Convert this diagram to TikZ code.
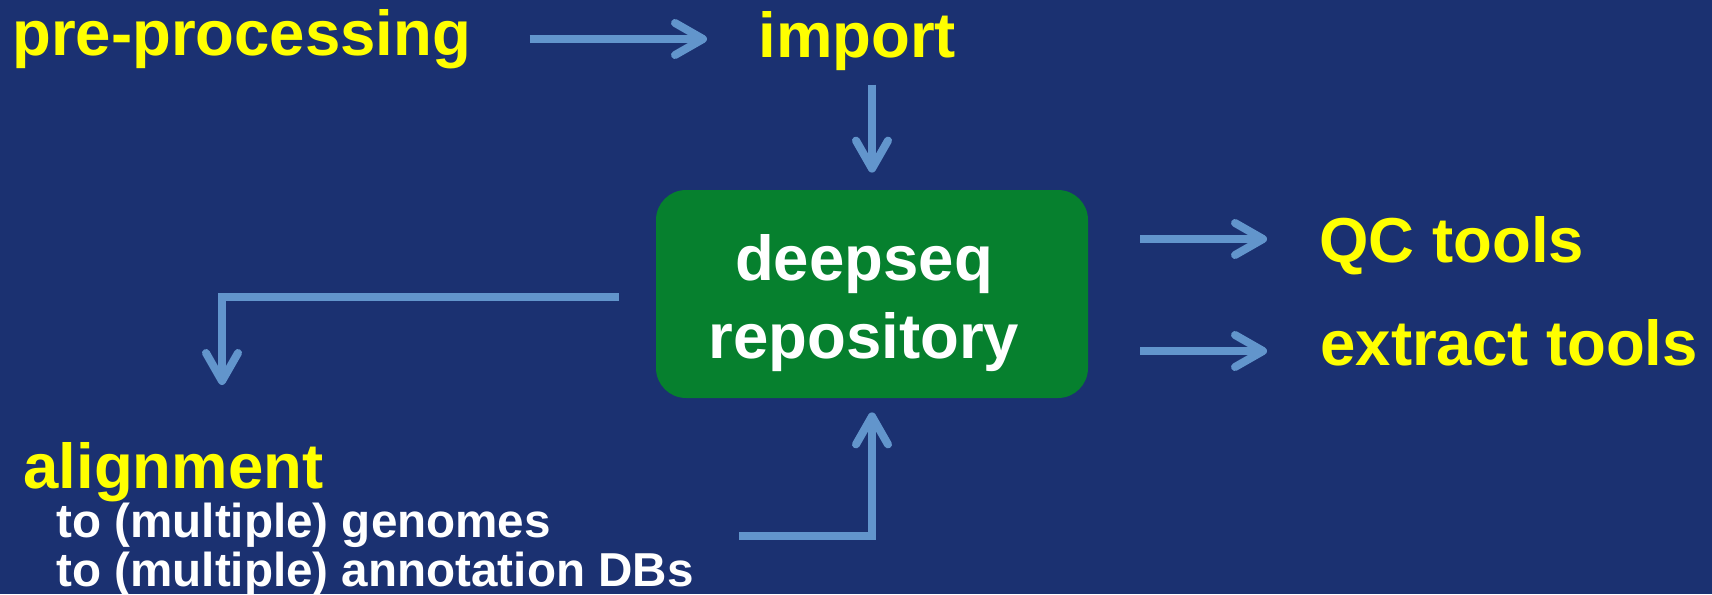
\documentclass[tikz,border=0pt]{standalone}
\usepackage{fontspec}
\setmainfont{Liberation Sans}
\usetikzlibrary{arrows.meta,calc}
\definecolor{bgnavy}{HTML}{1B3171}
\definecolor{arrblue}{HTML}{6295CC}
\definecolor{boxgreen}{HTML}{06802E}
\definecolor{txtyellow}{HTML}{FFFF00}
\tikzset{
  ytext/.style={inner sep=0pt, text=txtyellow, font=\fontsize{31.75pt}{38pt}\selectfont\bfseries},
  wtext/.style={inner sep=0pt, text=white, font=\fontsize{31.75pt}{38pt}\selectfont\bfseries},
  wsub/.style={inner sep=0pt, text=white, font=\fontsize{23.8pt}{29pt}\selectfont\bfseries},
  repobox/.style={fill=boxgreen, draw=none, rounded corners=15pt, minimum width=216pt, minimum height=104pt, inner sep=0pt},
  arr/.style={draw=arrblue, line width=4pt, -{Straight Barb[length=14pt, width=16pt, round]}}
}
\begin{document}
\begin{tikzpicture}[x=0.5pt, y=-0.5pt]
\useasboundingbox (0,0) rectangle (1712,594);
\fill[bgnavy] (0,0) rectangle (1712,594);

\node[repobox] (box) at (872,294) {};
\node[wtext, anchor=base] (l1) at (864,280) {deepseq};
\node[wtext, anchor=base] (l2) at (864,358) {repository};

\node[ytext, anchor=base west] (pre) at (12,55) {pre-processing};
\node[ytext, anchor=base west] (imp) at (758,57) {import};
\node[ytext, anchor=base west] (qc) at (1319,262) {QC tools};
\node[ytext, anchor=base west] (ex) at (1320,365) {extract tools};
\node[ytext, anchor=base west] (al) at (23,488) {alignment};
\node[wsub, anchor=base west] (s1) at (56,537) {to (multiple) genomes};
\node[wsub, anchor=base west] (s2) at (56,586) {to (multiple) annotation DBs};

% pre-processing -> import
\draw[arr] ($(pre.base east)+(58,-16)$) -- ($(imp.base west)+(-51,-18)$);
% import -> repository
\draw[arr] ($(box.north)+(0,-105)$) -- ($(box.north)+(0,-17)$);
% repository -> QC tools
\draw[arr] ($(box.east |- qc.base west)+(52,-23)$) -- ($(qc.base west)+(-52,-23)$);
% repository -> extract tools
\draw[arr] ($(box.east |- ex.base west)+(52,-14)$) -- ($(ex.base west)+(-53,-14)$);
% repository -> alignment
\draw[arr] ($(box.west)+(-37,3)$) -| ($(al.base west)+(199,-103)$);
% alignment -> repository
\draw[arr] ($(box.south)+(-133,138)$) -| ($(box.south)+(0,14)$);
\end{tikzpicture}
\end{document}
